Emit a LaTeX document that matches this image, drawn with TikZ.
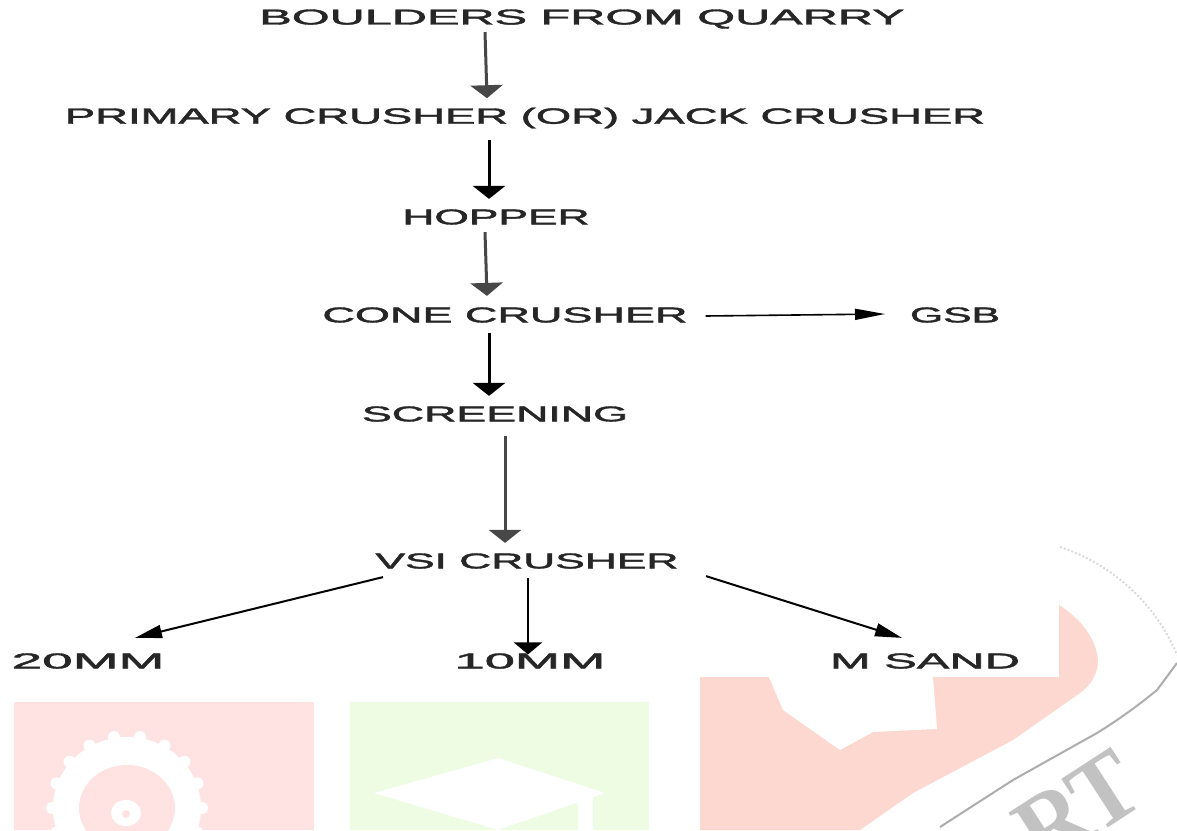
\documentclass[tikz,border=0pt]{standalone}
\usepackage{fontspec}
\setmainfont[BoldFont={Liberation Sans},BoldFeatures={FakeBold=1.6}]{Liberation Sans}
\newfontfamily\wmserif{Liberation Serif}
\usetikzlibrary{arrows.meta,calc}
\definecolor{wmred}{HTML}{FFE3E3}
\definecolor{wmgreen}{HTML}{EEFCE3}
\definecolor{wmbig}{HTML}{FDD8D0}
\definecolor{ink}{HTML}{262626}
\newcommand{\lbl}[3][15pt]{\resizebox{#2}{#1}{\bfseries #3}}
\tikzset{
  x=1pt,y=-1pt,
  stage/.style={inner sep=0pt,outer sep=0pt,text=ink},
  flow/.style={draw=black,line width=3pt,-{Triangle[length=13pt,width=32pt,inset=0pt]}},
  thinflow/.style={draw=black,line width=1.6pt,-{Triangle[length=30pt,width=11pt,inset=0pt]}},
  branch/.style={draw=black,line width=2pt,-{Triangle[length=27pt,width=13pt,inset=0pt]}},
  midflow/.style={draw=black,line width=2.6pt,-{Triangle[length=12pt,width=28pt,inset=0pt]}},
  swoosh/.style={draw=black!32,line width=2pt},
  faintswoosh/.style={draw=black!14,line width=2pt,dotted},
}
\begin{document}
\begin{tikzpicture}
\clip (0,0) rectangle (1177,830);
\fill[white] (0,0) rectangle (1177,830);
% watermark: left panel with gear
\fill[wmred] (14,702) rectangle (314,830);
\foreach \a in {0,20,...,340}{
  \fill[white] ($(127,808)+(\a:75 and 72)$) circle[radius=6];
}
\fill[white] (127,808) ellipse[x radius=74,y radius=71];
\fill[wmred] (127,808) ellipse[x radius=48,y radius=43];
\fill[white] (126,813) ellipse[x radius=15,y radius=13];
\fill[wmred] (126,814) ellipse[x radius=4,y radius=4];
% watermark: green panel with cap
\fill[wmgreen] (350,702) rectangle (649,830);
\fill[white] (374,793) -- (498,758) -- (605,793) -- (498,830) -- cycle;
\fill[white] (578,795) rectangle (593,830);
% watermark: large shape
\fill[wmbig] (700,600) -- (1059,600) -- (1059,605)
  .. controls (1080,618) and (1098,640) .. (1098,663)
  .. controls (1097,675) and (1090,686) .. (1080,693)
  -- (1013,740) -- (913,793) -- (860,830) -- (700,830) -- cycle;
\fill[white] (769,677) -- (933,677) -- (937,729) -- (873,732) -- (840,750) -- (783,710) -- cycle;
\draw[faintswoosh] (1060,547) .. controls (1095,558) and (1150,590) .. (1177,655);
\draw[swoosh] (1177,663) -- (1157,690) .. controls (1135,708) and (1115,722) .. (1097,733)
  -- (1013,780) -- (940,827);
\node[rotate=33,text=black!24,inner sep=0pt] (wm) at (1078,808)
  {\resizebox{125pt}{66pt}{\wmserif\bfseries RT}};
% white mask behind the chart
\fill[white] (0,0) rectangle (1059,677);
% stages
\node[stage] (boulders) at (582,19) {\lbl{645pt}{BOULDERS FROM QUARRY}};
\node[stage] (primary) at (525,118) {\lbl[16pt]{920pt}{PRIMARY CRUSHER (OR) JACK CRUSHER}};
\node[stage] (hopper) at (496,217) {\lbl{187pt}{HOPPER}};
\node[stage] (cone) at (505,315) {\lbl{365pt}{CONE CRUSHER}};
\node[stage] (gsb) at (955,315) {\lbl{90pt}{GSB}};
\node[stage] (screening) at (495,414) {\lbl{266pt}{SCREENING}};
\node[stage] (vsi) at (527,561) {\lbl{303pt}{VSI CRUSHER}};
\node[stage] (mm20) at (88,661) {\lbl{153pt}{20MM}};
\node[stage] (mm10) at (530,661) {\lbl{151pt}{10MM}};
\node[stage] (sand) at (925,661) {\lbl{190pt}{M SAND}};
% connectors
\draw[flow,draw=black!72] ([xshift=-97pt,yshift=-3.5pt]boulders.south) -- ([xshift=-38pt,yshift=9.5pt]primary.north);
\draw[flow] ([xshift=-36pt,yshift=-11.5pt]primary.south) -- ([xshift=-7pt,yshift=10.5pt]hopper.north);
\draw[flow,draw=black!72] ([xshift=-11pt,yshift=-7.5pt]hopper.south) -- ([xshift=-18pt,yshift=11.5pt]cone.north);
\draw[flow] ([xshift=-16pt,yshift=-10.5pt]cone.south) -- ([xshift=-6pt,yshift=10.5pt]screening.north);
\draw[flow,draw=black!72] ([xshift=10pt,yshift=-14.5pt]screening.south) -- ([xshift=-22pt,yshift=10.5pt]vsi.north);
\draw[thinflow] ([xshift=18pt,yshift=-1pt]cone.east) -- ([xshift=-25pt,yshift=1pt]gsb.west);
\draw[branch] ([xshift=-144pt,yshift=-8.5pt]vsi.south) -- ([xshift=47pt,yshift=15.5pt]mm20.north);
\draw[midflow] ([xshift=1pt,yshift=-9.5pt]vsi.south) -- ([xshift=-2pt,yshift=-1pt]mm10.north);
\draw[branch] ([xshift=179pt,yshift=-7.5pt]vsi.south) -- ([xshift=-23pt,yshift=15.5pt]sand.north);
\end{tikzpicture}
\end{document}
